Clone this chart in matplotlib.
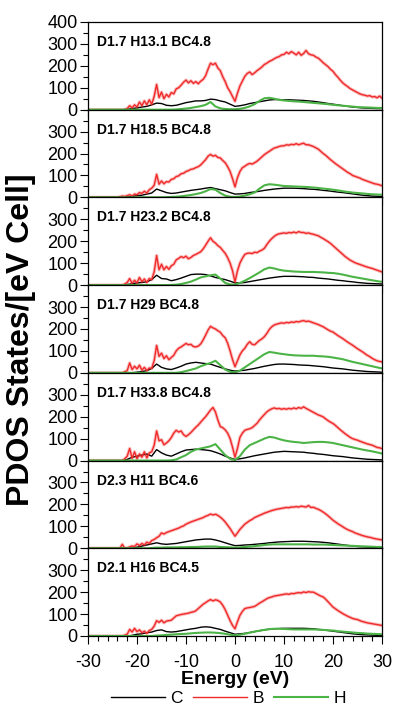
import matplotlib
matplotlib.use("Agg")
import matplotlib.pyplot as plt
from matplotlib.ticker import MultipleLocator
import numpy as np

plt.rcParams["font.family"] = ["Liberation Sans", "DejaVu Sans"]

# energy grids (eV): B sampled every 0.5 eV, C and H every 1 eV
e_fine = np.arange(-30, 30.25, 0.5)
e_coarse = np.arange(-30, 30.5, 1.0)

labels = ["D1.7 H13.1 BC4.8", "D1.7 H18.5 BC4.8", "D1.7 H23.2 BC4.8",
          "D1.7 H29 BC4.8", "D1.7 H33.8 BC4.8", "D2.3 H11 BC4.6",
          "D2.1 H16 BC4.5"]

# ---- B (red), 0.5 eV steps ----
b_1 = ([0] * 16 + [5, 18, 8, 22]
       + [12, 35, 18, 40, 22, 45, 25, 60, 115, 55, 80, 50, 70, 58, 78, 72, 95, 100, 112, 125]
       + [135, 122, 132, 120, 128, 118, 130, 138, 155, 185, 212, 205, 212, 190, 178, 150, 128, 100, 82, 60]
       + [38, 75, 108, 130, 152, 165, 172, 160, 168, 178, 186, 195, 206, 212, 220, 225, 232, 238, 242, 250]
       + [252, 262, 255, 265, 258, 250, 262, 248, 256, 270, 255, 250, 248, 240, 235, 225, 214, 205, 196, 184]
       + [175, 160, 148, 134, 122, 113, 105, 96, 90, 84, 78, 72, 68, 66, 62, 64, 58, 60, 54, 62]
       + [53])
b_2 = ([0] * 13 + [3, 6, 4, 8, 12, 6, 15]
       + [12, 22, 18, 28, 20, 35, 42, 55, 105, 60, 75, 62, 72, 70, 82, 85, 95, 98, 108, 110]
       + [118, 122, 128, 130, 136, 140, 148, 160, 172, 188, 196, 188, 192, 182, 180, 168, 158, 140, 118, 85]
       + [48, 90, 118, 135, 142, 150, 155, 152, 158, 165, 175, 185, 195, 203, 210, 218, 225, 228, 232, 235]
       + [235, 240, 238, 242, 240, 245, 240, 244, 247, 240, 240, 236, 232, 226, 220, 210, 200, 192, 182, 172]
       + [163, 154, 146, 138, 130, 122, 114, 108, 100, 96, 92, 88, 82, 78, 74, 70, 66, 62, 60, 57]
       + [53])
b_3 = ([0] * 15 + [5, 12, 30, 8, 22]
       + [10, 35, 15, 28, 12, 30, 25, 60, 135, 70, 95, 70, 85, 72, 88, 95, 115, 122, 130, 125]
       + [132, 120, 126, 135, 140, 146, 152, 165, 182, 200, 216, 200, 192, 180, 172, 158, 145, 125, 100, 65]
       + [15, 65, 100, 122, 140, 145, 146, 144, 150, 148, 155, 160, 168, 185, 200, 212, 222, 230, 234, 236]
       + [238, 236, 240, 238, 242, 238, 244, 240, 240, 236, 238, 234, 232, 228, 225, 218, 212, 205, 198, 190]
       + [180, 170, 160, 150, 140, 130, 122, 114, 108, 102, 98, 94, 90, 86, 82, 79, 76, 72, 68, 64]
       + [60])
b_4 = ([0] * 15 + [5, 10, 45, 15, 30]
       + [18, 35, 12, 25, 10, 22, 20, 55, 125, 75, 90, 65, 78, 60, 70, 80, 100, 112, 118, 126]
       + [134, 128, 130, 120, 118, 122, 132, 150, 172, 195, 212, 205, 200, 192, 185, 170, 160, 135, 100, 60]
       + [28, 55, 82, 100, 112, 130, 142, 130, 128, 138, 148, 155, 165, 180, 198, 210, 218, 222, 225, 228]
       + [226, 230, 228, 232, 230, 234, 232, 236, 238, 234, 236, 232, 228, 224, 220, 215, 210, 203, 196, 190]
       + [186, 178, 170, 163, 156, 148, 140, 133, 126, 118, 110, 103, 96, 88, 80, 74, 66, 60, 55, 52]
       + [50])
b_5 = ([0] * 15 + [8, 20, 55, 10, 40]
       + [8, 30, 15, 40, 12, 35, 40, 70, 135, 90, 95, 72, 80, 90, 105, 125, 138, 130, 135, 118]
       + [110, 118, 128, 140, 152, 162, 175, 188, 200, 215, 230, 242, 222, 185, 155, 150, 140, 125, 100, 60]
       + [15, 55, 105, 125, 138, 142, 145, 150, 160, 170, 185, 198, 210, 222, 230, 236, 240, 236, 238, 234]
       + [237, 234, 238, 235, 240, 236, 242, 238, 245, 238, 232, 226, 220, 214, 208, 204, 199, 190, 182, 175]
       + [169, 160, 150, 140, 131, 122, 114, 106, 100, 96, 93, 88, 84, 80, 76, 73, 70, 65, 60, 58]
       + [55])
b_6 = ([0] * 14 + [18, 0, 2, 6, 10, 8]
       + [20, 12, 22, 15, 28, 22, 35, 40, 48, 55, 70, 65, 72, 76, 80, 84, 88, 92, 98, 102]
       + [110, 115, 120, 124, 128, 132, 136, 140, 146, 150, 156, 152, 155, 150, 142, 132, 120, 105, 90, 72]
       + [55, 70, 86, 98, 110, 118, 126, 132, 140, 145, 150, 155, 160, 164, 168, 172, 175, 178, 180, 182]
       + [184, 186, 185, 188, 188, 190, 188, 192, 190, 188, 195, 186, 187, 182, 178, 172, 165, 157, 148, 138]
       + [128, 120, 112, 105, 98, 91, 85, 80, 76, 70, 66, 62, 58, 55, 52, 50, 47, 44, 42, 40]
       + [38])
b_7 = ([0] * 15 + [4, 8, 30, 18, 35]
       + [20, 28, 15, 22, 12, 25, 30, 45, 70, 62, 72, 60, 68, 70, 72, 82, 92, 95, 98, 100]
       + [102, 104, 108, 110, 115, 125, 135, 145, 152, 160, 166, 160, 165, 162, 155, 140, 120, 95, 70, 48]
       + [33, 65, 94, 112, 125, 128, 130, 132, 135, 142, 150, 156, 163, 170, 175, 178, 182, 184, 186, 188]
       + [190, 192, 190, 194, 193, 196, 198, 196, 201, 198, 202, 200, 200, 194, 188, 182, 178, 168, 156, 144]
       + [132, 124, 116, 109, 102, 96, 90, 85, 80, 77, 75, 70, 66, 63, 60, 58, 56, 54, 52, 50]
       + [48])

# ---- C (black), 1 eV steps ----
c_1 = ([0] * 8 + [2, 5, 8, 12, 15, 22, 30, 28, 20, 18, 20, 26, 32, 36, 40, 40, 42, 48, 46, 40, 35, 25]
       + [15, 18, 22, 28, 32, 36, 40, 44, 46, 46, 45, 45, 44, 43, 42, 40, 38, 35, 32, 28, 25,
          22, 18, 15, 12, 10, 8, 7, 6, 5, 5])
c_2 = ([0] * 8 + [2, 4, 8, 10, 15, 20, 38, 30, 22, 18, 20, 24, 28, 32, 35, 38, 42, 45, 40, 35, 30, 22]
       + [15, 16, 18, 22, 25, 28, 32, 35, 38, 40, 42, 42, 42, 41, 40, 38, 37, 35, 32, 30, 27,
          24, 22, 19, 16, 13, 10, 8, 6, 5, 4])
c_3 = ([0] * 8 + [3, 6, 10, 12, 15, 25, 45, 30, 28, 20, 25, 32, 40, 48, 50, 50, 48, 42, 35, 30, 25, 18]
       + [10, 10, 12, 16, 20, 24, 28, 32, 35, 38, 40, 40, 40, 39, 38, 36, 35, 32, 30, 28, 25,
          22, 20, 17, 15, 12, 10, 8, 7, 6, 5])
c_4 = ([0] * 10 + [3, 6, 10, 20, 40, 25, 18, 15, 22, 30, 40, 45, 48, 45, 42, 40, 32, 25, 18, 12]
       + [8, 10, 12, 16, 20, 25, 30, 34, 38, 40, 40, 39, 38, 36, 35, 34, 32, 30, 28, 25, 22,
          20, 18, 15, 12, 10, 8, 6, 5, 4, 3])
c_5 = ([0] * 8 + [5, 15, 20, 25, 30, 20, 50, 35, 25, 20, 30, 40, 48, 50, 52, 50, 48, 45, 38, 30, 20, 12]
       + [5, 8, 12, 17, 22, 26, 30, 34, 38, 40, 42, 41, 40, 39, 38, 35, 33, 30, 28, 25, 22,
          20, 18, 15, 12, 10, 8, 6, 5, 4, 3])
c_6 = ([0] * 10 + [5, 10, 15, 20, 25, 20, 18, 20, 22, 26, 30, 34, 38, 40, 42, 42, 38, 32, 25, 18]
       + [12, 13, 15, 16, 18, 20, 22, 25, 27, 29, 30, 31, 32, 32, 32, 31, 30, 29, 27, 25, 22,
          19, 16, 13, 10, 8, 7, 6, 5, 4, 4])
c_7 = ([0] * 9 + [3, 8, 10, 15, 18, 25, 28, 20, 18, 20, 24, 28, 32, 35, 40, 42, 40, 35, 30, 22, 15]
       + [8, 10, 12, 16, 20, 24, 28, 31, 33, 34, 35, 35, 35, 35, 35, 34, 33, 30, 28, 25, 22,
          19, 16, 13, 10, 8, 6, 5, 4, 3, 3])

# ---- H (green), 1 eV steps ----
h_1 = ([0] * 18 + [1, 3, 5, 8, 12, 16, 22, 35, 15, 6, 3, 2]
       + [2, 4, 8, 15, 25, 40, 52, 54, 50, 45, 42, 40, 38, 37, 35, 33, 31, 29, 27, 25, 22,
          20, 18, 16, 14, 12, 11, 10, 9, 8, 8])
h_2 = ([0] * 16 + [1, 2, 3, 5, 8, 11, 15, 20, 28, 38, 35, 20, 8, 3]
       + [2, 4, 8, 14, 22, 40, 55, 60, 58, 55, 52, 51, 50, 49, 48, 47, 45, 43, 40, 38, 35,
          32, 28, 25, 22, 20, 18, 16, 14, 13, 12])
h_3 = ([0] * 17 + [1, 2, 5, 10, 16, 25, 35, 40, 45, 48, 30, 10, 3]
       + [2, 10, 20, 32, 45, 58, 72, 80, 76, 70, 66, 64, 62, 61, 60, 60, 60, 59, 58, 56, 55,
          52, 48, 43, 38, 34, 30, 26, 22, 18, 15])
h_4 = ([0] * 19 + [3, 8, 14, 20, 30, 38, 45, 55, 35, 15, 5]
       + [2, 10, 25, 40, 55, 70, 85, 95, 92, 88, 85, 82, 80, 79, 78, 78, 78, 76, 75, 73, 70,
          66, 62, 56, 50, 45, 40, 35, 30, 25, 20])
h_5 = ([0] * 17 + [1, 5, 15, 25, 40, 50, 55, 60, 65, 75, 50, 25, 8]
       + [2, 20, 50, 70, 80, 90, 100, 108, 105, 98, 92, 88, 85, 83, 80, 82, 84, 85, 85, 83, 80,
          75, 70, 65, 60, 55, 50, 46, 42, 37, 32])
h_6 = ([0] * 13 + [1, 3, 3, 4, 4, 4, 5, 5, 6, 6, 7, 8, 8, 8, 6, 5, 4]
       + [3, 4, 6, 8, 10, 12, 15, 17, 18, 18, 18, 18, 18, 18, 18, 18, 17, 17, 17, 16, 15,
          14, 13, 12, 11, 10, 9, 8, 7, 6, 6])
h_7 = ([0] * 14 + [2, 3, 5, 6, 8, 9, 10, 12, 14, 15, 16, 16, 15, 13, 10, 6]
       + [3, 6, 10, 15, 20, 24, 28, 31, 33, 33, 32, 31, 30, 30, 30, 30, 30, 29, 28, 26, 25,
          22, 20, 18, 16, 14, 13, 11, 10, 9, 8])

panels = [(labels[0], c_1, b_1, h_1), (labels[1], c_2, b_2, h_2),
          (labels[2], c_3, b_3, h_3), (labels[3], c_4, b_4, h_4),
          (labels[4], c_5, b_5, h_5), (labels[5], c_6, b_6, h_6),
          (labels[6], c_7, b_7, h_7)]

fig, axes = plt.subplots(7, 1, figsize=(3.94, 7.08), dpi=100, sharex=True)
fig.subplots_adjust(left=0.2234, right=0.9695, top=0.969, bottom=0.1017, hspace=0)

red = "#f02a2a"
green = "#4cb447"

for i, (ax, (label, c, b, h)) in enumerate(zip(axes, panels)):
    lc, = ax.plot(e_coarse, c, color="black", linewidth=1.0, label="C")
    ax.plot(e_fine, b, color=red, linewidth=2.4, alpha=0.3)
    lb, = ax.plot(e_fine, b, color=red, linewidth=1.0, label="B")
    lh, = ax.plot(e_coarse, h, color=green, linewidth=1.5, label="H")
    ax.set_xlim(-30, 30)
    ax.set_ylim(0, 400)
    ax.set_yticks([0, 100, 200, 300, 400] if i == 0 else [0, 100, 200, 300])
    ax.yaxis.set_minor_locator(MultipleLocator(50))
    ax.xaxis.set_major_locator(MultipleLocator(10))
    ax.xaxis.set_minor_locator(MultipleLocator(2))
    ax.tick_params(which="major", direction="out", length=6, width=0.8, labelsize=13, pad=1.5)
    ax.tick_params(which="minor", direction="out", length=3.5, width=0.8)
    ax.tick_params(axis="x", which="major", pad=7)
    for s in ax.spines.values():
        s.set_linewidth(0.9)
    ax.text(0.03, 0.726, label, transform=ax.transAxes, fontsize=10,
            fontweight="bold", va="baseline", ha="left")

axes[-1].set_xticks([-30, -20, -10, 0, 10, 20, 30])
axes[-1].set_xticklabels(["-30", "-20", "-10", "0", "10", "20", "30"])
axes[-1].set_xlabel("Energy (eV)", fontsize=14, fontweight="bold", labelpad=0)

fig.text(0.054, 0.52, "PDOS States/[eV Cell]", rotation=90, fontsize=23,
         fontweight="bold", ha="center", va="center")

fig.legend(handles=[lc, lb, lh], loc="center", bbox_to_anchor=(0.58, 0.014),
           ncol=3, frameon=False, fontsize=12.5, handlelength=3.1,
           handletextpad=0.3, columnspacing=0.6)

fig.savefig("out.png", dpi=100)
